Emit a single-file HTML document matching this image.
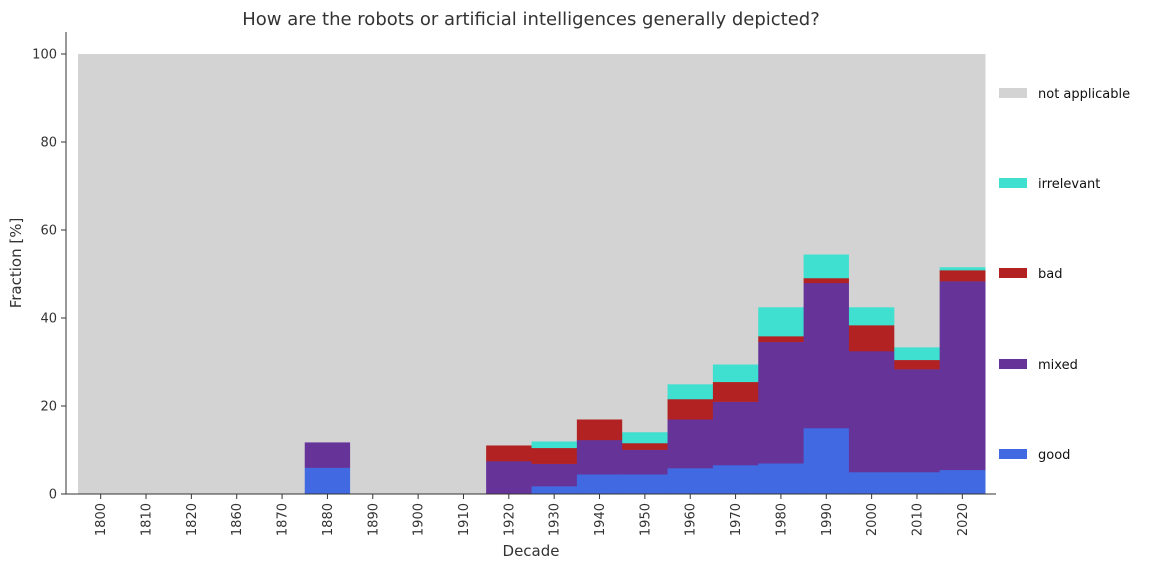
<!DOCTYPE html>
<html><head><meta charset="utf-8"><style>
body{margin:0;background:#fff;font-family:"Liberation Sans","DejaVu Sans",sans-serif;}
</style></head><body>
<svg id="chart" width="1152" height="569" xmlns="http://www.w3.org/2000/svg" font-family="DejaVu Sans, Liberation Sans, sans-serif">
<text x="531" y="25" text-anchor="middle" font-size="18" fill="#333">How are the robots or artificial intelligences generally depicted?</text>
<g id="bars"></g>
<g id="axes"></g>
<g id="legend"></g>
</svg>
<script>
const decades=["1800","1810","1820","1860","1870","1880","1890","1900","1910","1920","1930","1940","1950","1960","1970","1980","1990","2000","2010","2020"];
const good=      [0,0,0,0,0,6.0,0,0,0,0,  1.8,4.5,4.5,5.9,6.6,7.0,15.0,5.0,5.0,5.5];
const mixed=     [0,0,0,0,0,5.8,0,0,0,7.5,5.1,7.8,5.6,11.1,14.4,27.6,33.0,27.5,23.4,42.9];
const bad=       [0,0,0,0,0,0,0,0,0,3.6, 3.6,4.7,1.5,4.6,4.5,1.3,1.1,5.9,2.1,2.5];
const irrelevant=[0,0,0,0,0,0,0,0,0,0,   1.5,0,2.5,3.4,4.0,6.6,5.4,4.1,2.9,0.7];
const seriesNames=["good","mixed","bad","irrelevant","not applicable"];
const colors=["#4169e1","#663399","#b22222","#40e0d0","#d3d3d3"];
const yTicks=[0,20,40,60,80,100];
const NS="http://www.w3.org/2000/svg";
const X0=78,BW=(985-78)/decades.length;
const y=v=>494-v*4.4;
const xL=i=>X0+i*BW;
function mk(t,a,p){const e=document.createElementNS(NS,t);for(const k in a)e.setAttribute(k,a[k]);p.appendChild(e);return e;}
const bars=document.getElementById('bars');
decades.forEach((d,i)=>{
  const vals=[good[i],mixed[i],bad[i],irrelevant[i]];
  const s=vals.reduce((a,b)=>a+b,0);vals.push(100-s);
  let base=0;
  vals.forEach((v,k)=>{
    if(v<=0){return;}
    const r=mk('rect',{x:xL(i),y:y(base+v),width:BW+0.5,height:v*4.4+0.3,fill:colors[k]},bars);
    
    
    base+=v;
  });
});
const ax=document.getElementById('axes');
let l=mk('line',{x1:66,y1:32,x2:66,y2:494,stroke:'#333','stroke-width':1},ax);

l=mk('line',{x1:66,y1:494,x2:996,y2:494,stroke:'#333','stroke-width':1},ax);

yTicks.forEach(t=>{
  mk('line',{x1:61,y1:y(t),x2:66,y2:y(t),stroke:'#333'},ax);
  const tx=mk('text',{x:57,y:y(t)+4.5,'text-anchor':'end','font-size':13,fill:'#333'},ax);
  tx.textContent=t;
  
});
decades.forEach((d,i)=>{
  const cx=xL(i)+BW/2;
  mk('line',{x1:cx,y1:494,x2:cx,y2:499,stroke:'#333'},ax);
  const tx=mk('text',{x:0,y:0,'text-anchor':'end','font-size':13,fill:'#333',transform:`translate(${cx+4.5},503) rotate(-90)`},ax);
  tx.textContent=d;
  
});
let t=mk('text',{x:531,y:556,'text-anchor':'middle','font-size':15,fill:'#333'},ax);t.textContent='Decade';

t=mk('text',{x:0,y:0,'text-anchor':'middle','font-size':15,fill:'#333',transform:'translate(21,263) rotate(-90)'},ax);t.textContent='Fraction [%]';

const lg=document.getElementById('legend');
const order=[4,3,2,1,0],ly=[93,183,273,364,454];
order.forEach((k,j)=>{
  const g=mk('g',{},lg);
  
  
  mk('rect',{x:999,y:ly[j]-5,width:28,height:10,fill:colors[k]},g);
  const tx=mk('text',{x:1038,y:ly[j]+5,'font-size':13,fill:'#111'},g);tx.textContent=seriesNames[k];
});
</script>
</body></html>
